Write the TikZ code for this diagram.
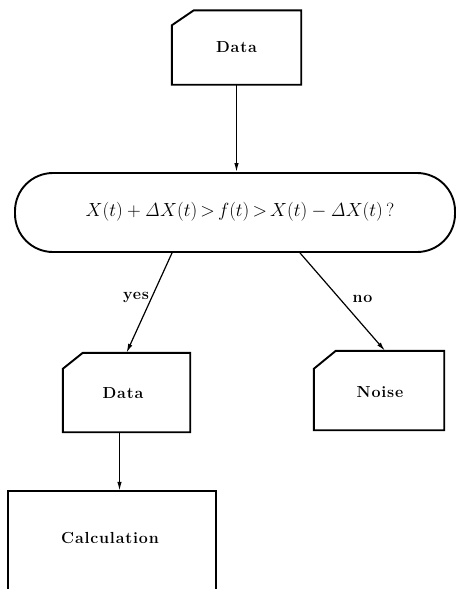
\RequirePackage{fix-cm}
\documentclass[tikz,border=0pt]{standalone}
\usepackage[no-math]{fontspec}
\usetikzlibrary{arrows.meta}
\newfontfamily\lblfont[LetterSpace=5]{Latin Modern Roman}
\tikzset{
  box/.style={draw=none, rectangle, inner sep=0pt},
  outline/.style={line width=1.9pt, line join=miter},
  arr/.style={line width=1.2pt, -{Latex[length=9pt,width=4.5pt]}},
  lbl/.style={font=\lblfont\bfseries\fontsize{16}{19}\selectfont, inner sep=0pt},
}
\begin{document}
\begin{tikzpicture}[x=1pt,y=-1pt]
\clip (0,0) rectangle (456,589);
\useasboundingbox (0,0) rectangle (456,589);
% top data card
\node[box, minimum width=129pt, minimum height=74pt] (d1) at (236.5,47.5) {};
\node[lbl] (d1l) at (d1.center) {Data};
\draw[outline] ([yshift=-15pt]d1.north west) -- ([xshift=22pt]d1.north west) -- (d1.north east) -- (d1.south east) -- (d1.south west) -- cycle;
% decision
\node[draw, outline, rectangle, rounded corners=38pt, minimum width=440pt, minimum height=79pt, inner sep=0pt] (dec) at (235,212.5) {};
\node[inner sep=0pt, font=\fontsize{19}{23}\selectfont] (decl) at (240,212) {$X(t)+\mathit{\Delta} X(t)\mskip-2mu>\mskip-2mu f(t)\mskip-2mu>\mskip-2mu X(t)-\mathit{\Delta} X(t)\,?$};
% lower data card
\node[box, minimum width=127pt, minimum height=79pt] (d2) at (126.5,392.5) {};
\node[lbl] (d2l) at (123,393) {Data};
\draw[outline] ([yshift=-16pt]d2.north west) -- ([xshift=20pt]d2.north west) -- (d2.north east) -- (d2.south east) -- (d2.south west) -- cycle;
% noise card
\node[box, minimum width=130pt, minimum height=79pt] (n) at (379,390.5) {};
\node[lbl] (nl) at (380,392) {Noise};
\draw[outline] ([yshift=-18pt]n.north west) -- ([xshift=22pt]n.north west) -- (n.north east) -- (n.south east) -- (n.south west) -- cycle;
% calculation box (runs past the lower edge)
\node[box, minimum width=208pt, minimum height=110pt] (calc) at (112,546) {};
\node[lbl] (calcl) at (110,538) {Calculation};
\draw[outline] (calc.south west) -- (calc.north west) -- (calc.north east) -- (calc.south east);
% connectors
\draw[arr] (d1.south) -- (d1.south |- dec.north);
\draw[arr] ([xshift=-63pt]dec.south) -- node[lbl, left=2pt, pos=0.45] (yes) {yes} (d2.north);
\draw[arr] ([xshift=65pt]dec.south) -- node[lbl, right=12pt, pos=0.47] (no) {no} ([xshift=6pt]n.north);
\draw[arr] ([xshift=-7pt]d2.south) -- ([xshift=-7pt]d2.south |- calc.north);
\end{tikzpicture}
\end{document}
